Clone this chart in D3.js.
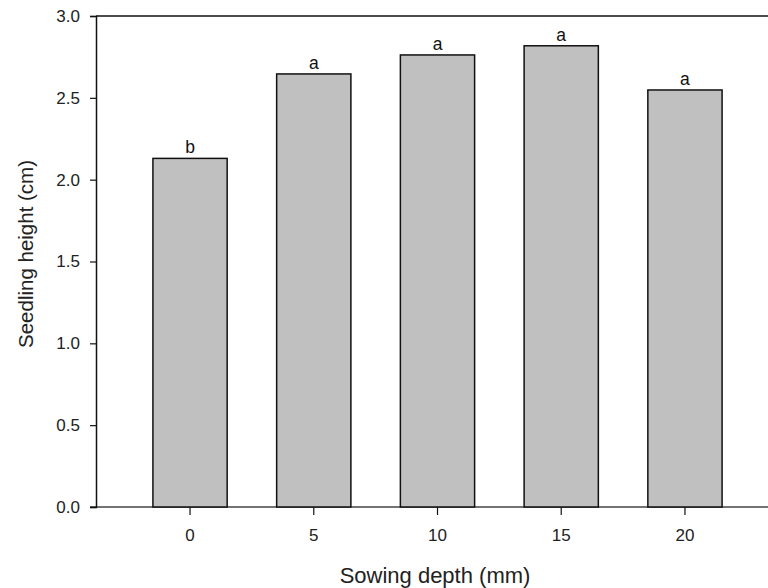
<!DOCTYPE html>
<html>
<head>
<meta charset="utf-8">
<script src="https://cdn.jsdelivr.net/npm/d3@7"></script>
<style>
  body { margin: 0; background: #fff; }
  svg { font-family: Arial, "Liberation Sans", sans-serif; }
</style>
</head>
<body>
<div id="chart"></div>
<script>
// data
const depths = ["0", "5", "10", "15", "20"];
const heights = [2.13, 2.646, 2.762, 2.818, 2.548];
const letters = ["b", "a", "a", "a", "a"];
const yTicks = [0, 0.5, 1.0, 1.5, 2.0, 2.5, 3.0];

const width = 768;
const height = 588;
const plot = { left: 96, right: 779, top: 16, bottom: 507 };
const fontFamily = "Arial, 'Liberation Sans', sans-serif";

const svg = d3
  .select("#chart")
  .append("svg")
  .attr("width", width)
  .attr("height", height);

const xScale = d3
  .scaleBand()
  .domain(depths)
  .range([plot.left, plot.right])
  .paddingInner(0.4)
  .paddingOuter(0.46);

const yScale = d3
  .scaleLinear()
  .domain([0, 3])
  .range([plot.bottom, plot.top]);

// bottom line sits under the bars
svg
  .append("line")
  .attr("x1", plot.left - 6)
  .attr("x2", width)
  .attr("y1", plot.bottom)
  .attr("y2", plot.bottom)
  .attr("stroke", "#444")
  .attr("stroke-width", 1.5);

const bars = depths.map((d, i) => ({ depth: d, value: heights[i], letter: letters[i] }));

svg
  .selectAll(".bar")
  .data(bars)
  .enter()
  .append("rect")
  .attr("class", "bar")
  .attr("x", (d) => xScale(d.depth))
  .attr("y", (d) => yScale(d.value))
  .attr("width", xScale.bandwidth())
  .attr("height", (d) => yScale(0) - yScale(d.value))
  .attr("fill", "#c0c0c0")
  .attr("stroke", "#111")
  .attr("stroke-width", 1.5);

svg
  .selectAll(".sig")
  .data(bars)
  .enter()
  .append("text")
  .attr("class", "sig")
  .attr("x", (d) => xScale(d.depth) + xScale.bandwidth() / 2)
  .attr("y", (d) => yScale(d.value) - 5)
  .attr("text-anchor", "middle")
  .style("font-size", "17.5px")
  .style("fill", "#111")
  .text((d) => d.letter);

// y axis
const yAxis = d3
  .axisLeft(yScale)
  .tickValues(yTicks)
  .tickFormat(d3.format(".1f"))
  .tickSize(6)
  .tickPadding(10);
const yAxisGroup = svg
  .append("g")
  .attr("transform", `translate(${plot.left}, 0)`)
  .call(yAxis);
yAxisGroup.select(".domain").attr("stroke", "#111").attr("stroke-width", 1.5);
yAxisGroup.selectAll(".tick line").attr("stroke", "#111").attr("stroke-width", 1.2);
yAxisGroup
  .selectAll(".tick text")
  .style("font-size", "17px")
  .style("fill", "#222")
  .style("font-family", fontFamily);

// x axis ticks
const xAxis = d3.axisBottom(xScale).tickSize(8).tickPadding(14);
const xAxisGroup = svg
  .append("g")
  .attr("transform", `translate(0, ${plot.bottom})`)
  .call(xAxis);
xAxisGroup.select(".domain").remove();
xAxisGroup.selectAll(".tick line").attr("stroke", "#111").attr("stroke-width", 1.2);
xAxisGroup
  .selectAll(".tick text")
  .style("font-size", "17px")
  .style("fill", "#222")
  .style("font-family", fontFamily);

// top frame line
svg
  .append("line")
  .attr("x1", plot.left)
  .attr("x2", width)
  .attr("y1", plot.top)
  .attr("y2", plot.top)
  .attr("stroke", "#111")
  .attr("stroke-width", 1.5);

// axis titles
svg
  .append("text")
  .attr("x", 435)
  .attr("y", 583)
  .attr("text-anchor", "middle")
  .style("font-size", "22px")
  .style("fill", "#222")
  .text("Sowing depth (mm)");

svg
  .append("text")
  .attr("transform", `translate(33, 254) rotate(-90)`)
  .attr("text-anchor", "middle")
  .style("font-size", "20.5px")
  .style("fill", "#222")
  .text("Seedling height (cm)");
</script>
</body>
</html>
